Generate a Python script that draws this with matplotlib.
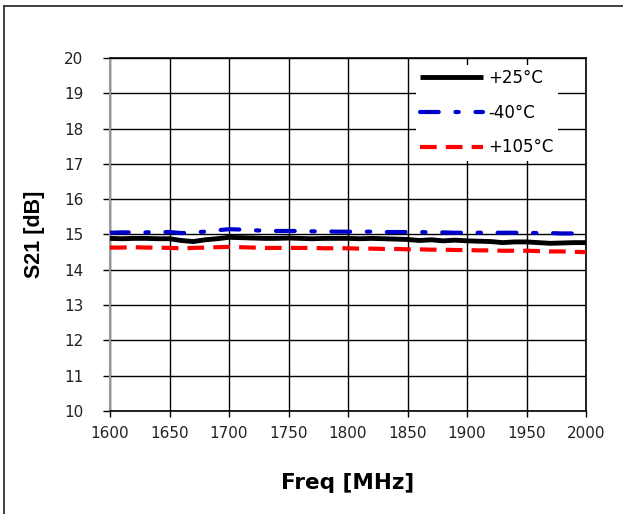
import matplotlib
matplotlib.use("Agg")
import matplotlib.pyplot as plt
from matplotlib.lines import Line2D
import numpy as np

freq = [1600, 1610, 1620, 1630, 1640, 1650, 1660, 1670, 1680, 1690, 1700,
        1710, 1720, 1730, 1740, 1750, 1760, 1770, 1780, 1790, 1800,
        1810, 1820, 1830, 1840, 1850, 1860, 1870, 1880, 1890, 1900,
        1910, 1920, 1930, 1940, 1950, 1960, 1970, 1980, 1990, 2000]

s21_25 = [14.89, 14.88, 14.89, 14.89, 14.88, 14.88, 14.83, 14.80, 14.85, 14.88, 14.92,
          14.91, 14.90, 14.89, 14.89, 14.90, 14.89, 14.88, 14.89, 14.89, 14.89,
          14.88, 14.89, 14.88, 14.87, 14.86, 14.83, 14.85, 14.82, 14.84, 14.82,
          14.81, 14.80, 14.77, 14.79, 14.79, 14.77, 14.75, 14.76, 14.77, 14.77]

s21_m40 = [15.05, 15.06, 15.06, 15.06, 15.07, 15.07, 15.04, 15.06, 15.08, 15.12, 15.15,
           15.14, 15.12, 15.11, 15.10, 15.10, 15.10, 15.09, 15.09, 15.08, 15.08,
           15.08, 15.08, 15.07, 15.07, 15.07, 15.07, 15.06, 15.06, 15.05, 15.05,
           15.05, 15.05, 15.05, 15.05, 15.05, 15.04, 15.04, 15.03, 15.03, 15.02]

s21_105 = [14.63, 14.63, 14.64, 14.63, 14.63, 14.62, 14.61, 14.62, 14.63, 14.64, 14.65,
           14.64, 14.63, 14.62, 14.62, 14.62, 14.62, 14.62, 14.61, 14.61, 14.61,
           14.60, 14.60, 14.59, 14.59, 14.58, 14.58, 14.57, 14.57, 14.56, 14.56,
           14.55, 14.55, 14.54, 14.54, 14.54, 14.53, 14.52, 14.52, 14.51, 14.50]

labels = ["+25°C", "-40°C", "+105°C"]
xticks = [1600, 1650, 1700, 1750, 1800, 1850, 1900, 1950, 2000]
yticks = list(range(10, 21))

plt.rcParams['font.family'] = ['DejaVu Sans']

fig = plt.figure(figsize=(6.23, 5.14), dpi=100)
W, H = 623, 514
ax = fig.add_axes([110 / W, 1 - 411 / H, (586 - 110) / W, (411 - 58) / H])

# outer frame (left and top lines)
fig.add_artist(Line2D([4 / W, 4 / W], [0, 1 - 6 / H], transform=fig.transFigure,
                      color='#333333', lw=1.3))
fig.add_artist(Line2D([4 / W, 1], [1 - 6 / H, 1 - 6 / H], transform=fig.transFigure,
                      color='#333333', lw=1.3))

ax.plot(freq, s21_25, color='black', lw=3.5, label=labels[0], solid_capstyle='butt', zorder=3)
ax.plot(freq, s21_m40, color='#0000cc', lw=3.0, label=labels[1],
        dashes=(4.5, 4.0, 0.8, 4.0), dash_capstyle='round', zorder=3)
ax.plot(freq, s21_105, color='#ff0000', lw=3.0, label=labels[2],
        dashes=(4.0, 2.2), zorder=3)

ax.set_xlim(1600, 2000)
ax.set_ylim(10, 20)
ax.set_xticks(xticks)
ax.set_yticks(yticks)
ax.grid(True, color='black', lw=1.0, zorder=1)
ax.set_axisbelow(True)

for s in ['top', 'right', 'bottom']:
    ax.spines[s].set_color('black')
    ax.spines[s].set_linewidth(1.2)
ax.spines['left'].set_color('#999999')
ax.spines['left'].set_linewidth(1.5)

ax.tick_params(axis='both', direction='out', length=4, width=1.0, colors='black',
               labelsize=11, labelcolor='#222222')
ax.tick_params(axis='y', pad=14, length=5)
ax.tick_params(axis='x', pad=7)

ax.set_xlabel("Freq [MHz]", fontsize=15.5, fontweight='bold', labelpad=23)
ax.set_ylabel("S21 [dB]", fontsize=15.5, fontweight='bold', labelpad=14,
              family=['Liberation Sans'])

leg = ax.legend(loc='upper right', bbox_to_anchor=(0.958, 1.004), fontsize=12,
                handlelength=3.8, handletextpad=0.3, labelspacing=1.0,
                frameon=True, fancybox=False, borderpad=0.25)
leg.get_frame().set_facecolor('white')
leg.get_frame().set_edgecolor('none')
leg.get_frame().set_alpha(1.0)
leg.set_zorder(2.4)

fig.savefig("out.png", dpi=100)
